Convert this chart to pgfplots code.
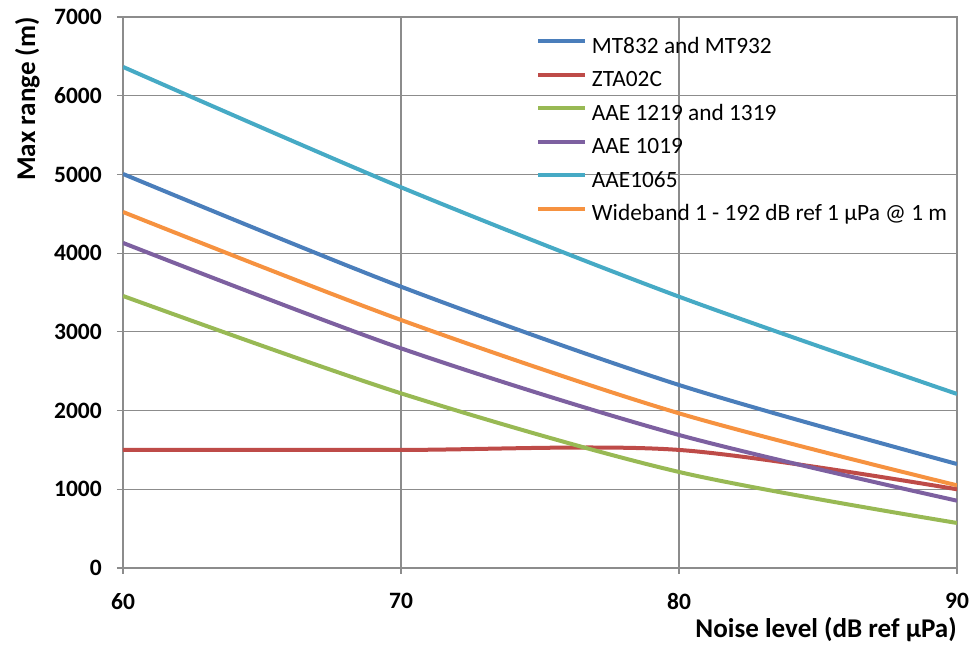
\documentclass[border=0pt]{standalone}
\usepackage{fontspec}
\setmainfont{Carlito}
\usepackage{pgfplots}
\pgfplotsset{compat=1.18}
\definecolor{cblue}{HTML}{4A7EBB}
\definecolor{cred}{HTML}{BE4B48}
\definecolor{cgreen}{HTML}{98B954}
\definecolor{cpurple}{HTML}{7D60A0}
\definecolor{ccyan}{HTML}{46AAC5}
\definecolor{corange}{HTML}{F69240}
\definecolor{gridgray}{HTML}{8C8C8C}
\begin{document}
\begin{tikzpicture}
\path[use as bounding box] (-92.25pt,-60pt) rectangle (636pt,426pt);
\begin{axis}[
  at={(0,0)}, anchor=south west,
  scale only axis, width=625.5pt, height=413.25pt,
  xmin=60, xmax=90, ymin=0, ymax=7000,
  xtick={60,70,80,90}, ytick={0,1000,...,7000},
  scaled y ticks=false,
  grid=major, grid style={color=gridgray, line width=0.9pt},
  axis line style={gridgray, line width=0.9pt},
  tick style={gridgray, line width=0.9pt},
  tick align=outside, major tick length=4.5pt,
  xtick pos=bottom, ytick pos=left,
  /pgf/number format/assume math mode=true,
  /pgf/number format/1000 sep={},
  ticklabel style={font=\fontsize{17.6}{20}\selectfont\bfseries, text=black},
  yticklabel style={anchor=east, inner sep=0pt, xshift=-11.25pt},
  xticklabel style={anchor=north, inner sep=0pt, yshift=-14.5pt},
  xlabel={Noise level (dB ref µPa)},
  ylabel={Max range (m)},
  label style={font=\fontsize{20.3}{23}\selectfont\bfseries},
  xlabel style={at={(axis description cs:1,0)}, anchor=base east, yshift=-52.5pt, inner sep=0pt},
  ylabel style={at={(axis description cs:-0.1055,1)}, anchor=base east, inner sep=0pt},
  legend style={at={(axis description cs:0.4952,0.9651)}, anchor=north west, draw=none, fill=none,
    font=\fontsize{17.5}{20}\selectfont, inner sep=0pt, row sep=8.6pt, column sep=3.75pt,
    nodes={inner sep=0pt, text height=12.5pt, text depth=4pt}},
  legend cell align=left,
  legend image code/.code={\draw[#1] (0pt,4.5pt) -- (35pt,4.5pt);},
  every axis plot/.append style={line width=3pt, smooth, tension=0.5, no markers},
]
\addplot[cblue] coordinates {(60,5006) (70,3574) (80,2325) (90,1321)};
\addlegendentry{MT832 and MT932}
\addplot[cred] coordinates {(60,1500) (70,1500) (80,1500) (90,1000)};
\addlegendentry{ZTA02C}
\addplot[cgreen] coordinates {(60,3456) (70,2219) (80,1220) (90,572)};
\addlegendentry{AAE 1219 and 1319}
\addplot[cpurple] coordinates {(60,4130) (70,2791) (80,1690) (90,855)};
\addlegendentry{AAE 1019}
\addplot[ccyan] coordinates {(60,6366) (70,4837) (80,3447) (90,2211)};
\addlegendentry{AAE1065}
\addplot[corange] coordinates {(60,4523) (70,3151) (80,1965) (90,1050)};
\addlegendentry{Wideband 1 - 192 dB ref 1 µPa @ 1 m}
\end{axis}
\end{tikzpicture}
\end{document}
